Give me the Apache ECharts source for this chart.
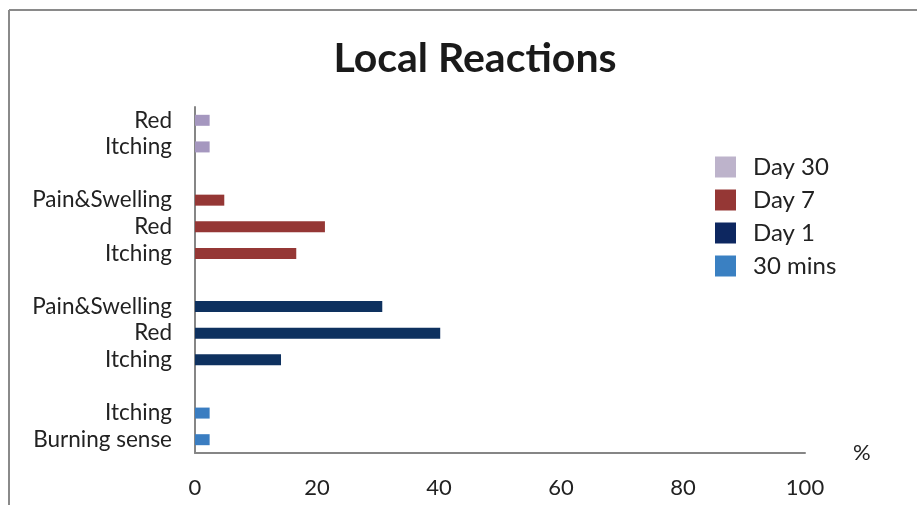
<!DOCTYPE html>
<html>
<head>
<meta charset="utf-8">
<script src="https://cdn.jsdelivr.net/npm/echarts@6/dist/echarts.min.js"></script>
<style>
html, body { margin: 0; padding: 0; background: #fff; }
#container { width: 917px; height: 505px; }
</style>
</head>
<body>
<div id="container"></div>
<script>
var categories = ['Burning sense', 'Itching', '', 'Itching', 'Red', 'Pain&Swelling', '', 'Itching', 'Red', 'Pain&Swelling', '', 'Itching', 'Red'];
var seriesNames = ['Day 30', 'Day 7', 'Day 1', '30 mins'];
var day30 = [null, null, null, null, null, null, null, null, null, null, null, 2.4, 2.4];
var day7 = [null, null, null, null, null, null, null, 16.6, 21.3, 4.8, null, null, null];
var day1 = [null, null, null, 14.1, 40.2, 30.7, null, null, null, null, null, null, null];
var mins30 = [2.4, 2.4, null, null, null, null, null, null, null, null, null, null, null];
var xTicks = [0, 20, 40, 60, 80, 100];

var barColors = ['#A597BF', '#953735', '#0E315F', '#3A7DC1'];
var legendColors = ['#BDB3CB', '#953735', '#0D2760', '#3A80C2'];
var values = [day30, day7, day1, mins30];

var dom = document.getElementById('container');
var myChart = echarts.init(dom);

var series = seriesNames.map(function (name, i) {
    return {
        name: name,
        type: 'bar',
        stack: 'all',
        barWidth: 11,
        itemStyle: { color: barColors[i] },
        data: values[i]
    };
});

var option = {
    animation: false,
    backgroundColor: '#fff',
    textStyle: { fontFamily: 'Lato' },
    title: {
        text: 'Local Reactions',
        left: 470,
        top: 33,
        textAlign: 'center',
        textStyle: { fontFamily: 'Lato', fontSize: 41, fontWeight: 'bold', color: '#1a1a1a' }
    },
    legend: {
        orient: 'vertical',
        left: 710,
        top: 140,
        itemWidth: 21,
        itemHeight: 21,
        itemGap: -11,
        icon: 'rect',
        textStyle: { fontSize: 24, lineHeight: 24, color: '#222', padding: [20, 0, 0, 12] },
        data: seriesNames.map(function (n, i) {
            return { name: n, itemStyle: { color: legendColors[i] } };
        })
    },
    grid: {
        left: 195,
        right: 112,
        top: 107,
        bottom: 52,
        containLabel: false
    },
    xAxis: {
        type: 'value',
        min: 0,
        max: 100,
        interval: 20,
        name: '%',
        nameLocation: 'end',
        nameGap: 0,
        nameTextStyle: { fontSize: 22, color: '#222', padding: [0, 0, -58, 48] },
        axisLine: { show: true, lineStyle: { color: '#868686', width: 2 } },
        axisTick: { show: false },
        splitLine: { show: false },
        axisLabel: {
            fontSize: 22,
            color: '#222',
            margin: 24,
            formatter: function (v) { return xTicks.indexOf(v) >= 0 ? String(v) : ''; }
        }
    },
    yAxis: {
        type: 'category',
        data: categories,
        boundaryGap: true,
        axisLine: { show: true, lineStyle: { color: '#868686', width: 2 } },
        axisTick: { show: false },
        splitLine: { show: false },
        axisLabel: { fontSize: 22.5, color: '#222', margin: 23, interval: 0 }
    },
    graphic: [
        { type: 'line', shape: { x1: 9, y1: 10, x2: 917, y2: 10 }, style: { stroke: '#8a8a8a', lineWidth: 2 } },
        { type: 'line', shape: { x1: 9, y1: 10, x2: 9, y2: 505 }, style: { stroke: '#8a8a8a', lineWidth: 2 } }
    ],
    series: series
};

window.onresize = function () {
    myChart.resize();
};
if (option && typeof option === 'object') {
    myChart.setOption(option, true);
}
</script>
</body>
</html>
